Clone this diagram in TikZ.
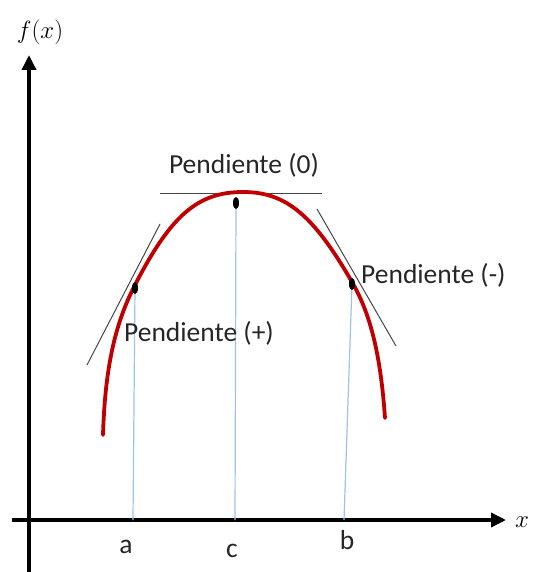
\documentclass[tikz,border=0pt]{standalone}
\usepackage{fontspec}
\setsansfont{Carlito}
\usetikzlibrary{arrows.meta,shapes.geometric}
\definecolor{curvered}{RGB}{192,0,0}
\definecolor{droplineblue}{RGB}{157,195,230}
\definecolor{tangentgray}{RGB}{70,70,70}
\tikzset{
  axisline/.style={line width=3.5pt,-{Triangle[length=15pt,width=14pt]}},
  lbl/.style={font=\sffamily\fontsize{27.5}{32}\selectfont,text=black!85,inner sep=0pt},
  mathlbl/.style={font=\fontsize{31}{34}\selectfont,inner sep=0pt},
  tangentline/.style={draw=tangentgray,line width=1pt},
  dropline/.style={draw=droplineblue,line width=1.2pt},
  curveline/.style={draw=curvered,line width=3.8pt,line cap=round},
  pointdot/.style={fill=black,draw=none,ellipse,minimum width=6pt,minimum height=12pt,inner sep=0pt}
}
\begin{document}
\begin{tikzpicture}[x=1pt,y=-1pt]
\useasboundingbox (0,0) rectangle (533,572);
% axes
\coordinate (ybot) at (29,572);
\coordinate (ytop) at (29,55);
\coordinate (xleft) at (12,520);
\coordinate (xright) at (506,520);
\draw[axisline] (ybot) -- (ytop);
\draw[axisline] (xleft) -- (xright);
\node[mathlbl] (fx) at (40,32) {$f(x)$};
\node[mathlbl] (xl) at (522,522) {$x$};
% drop lines
\coordinate (pa) at (135,288);
\coordinate (pc) at (236,203);
\coordinate (pb) at (352,284);
\coordinate (ab) at (133,520);
\coordinate (cb) at (235,520);
\coordinate (bb) at (344,520);
\draw[dropline] (pa) -- (ab);
\draw[dropline] (pc) -- (cb);
\draw[dropline] (pb) -- (bb);
% tangents
\coordinate (t1a) at (87,365);
\coordinate (t1b) at (160,224);
\coordinate (t2a) at (160,193);
\coordinate (t2b) at (322,193);
\coordinate (t3a) at (317,209);
\coordinate (t3b) at (396,346);
\draw[tangentline] (t1a) -- (t1b);
\draw[tangentline] (t2a) -- (t2b);
\draw[tangentline] (t3a) -- (t3b);
% curve
\coordinate (cs) at (103,435);
\coordinate (ca) at (135,285);
\coordinate (ctop) at (243,192);
\coordinate (cb2) at (352,282);
\coordinate (ce) at (385,418);
\draw[curveline] (cs) .. controls (105,369.5) and (114.5,324.5) .. (ca)
  .. controls (171,215) and (198,192) .. (ctop)
  .. controls (285.75,192) and (313,214.5) .. (cb2)
  .. controls (370.7,314.4) and (380.6,355.2) .. (ce);
% points
\node[pointdot] (da) at (pa) {};
\node[pointdot] (dc) at (pc) {};
\node[pointdot] (db) at (pb) {};
% labels
\node[lbl] (l0) at (244,165) {Pendiente (0)};
\node[lbl] (lp) at (199,333) {Pendiente (+)};
\node[lbl,anchor=west] (lm) at (361,275) {Pendiente (-)};
\node[lbl] (la) at (126,547) {a};
\node[lbl] (lc) at (232,551) {c};
\node[lbl] (lb) at (347,540) {b};
\end{tikzpicture}
\end{document}
